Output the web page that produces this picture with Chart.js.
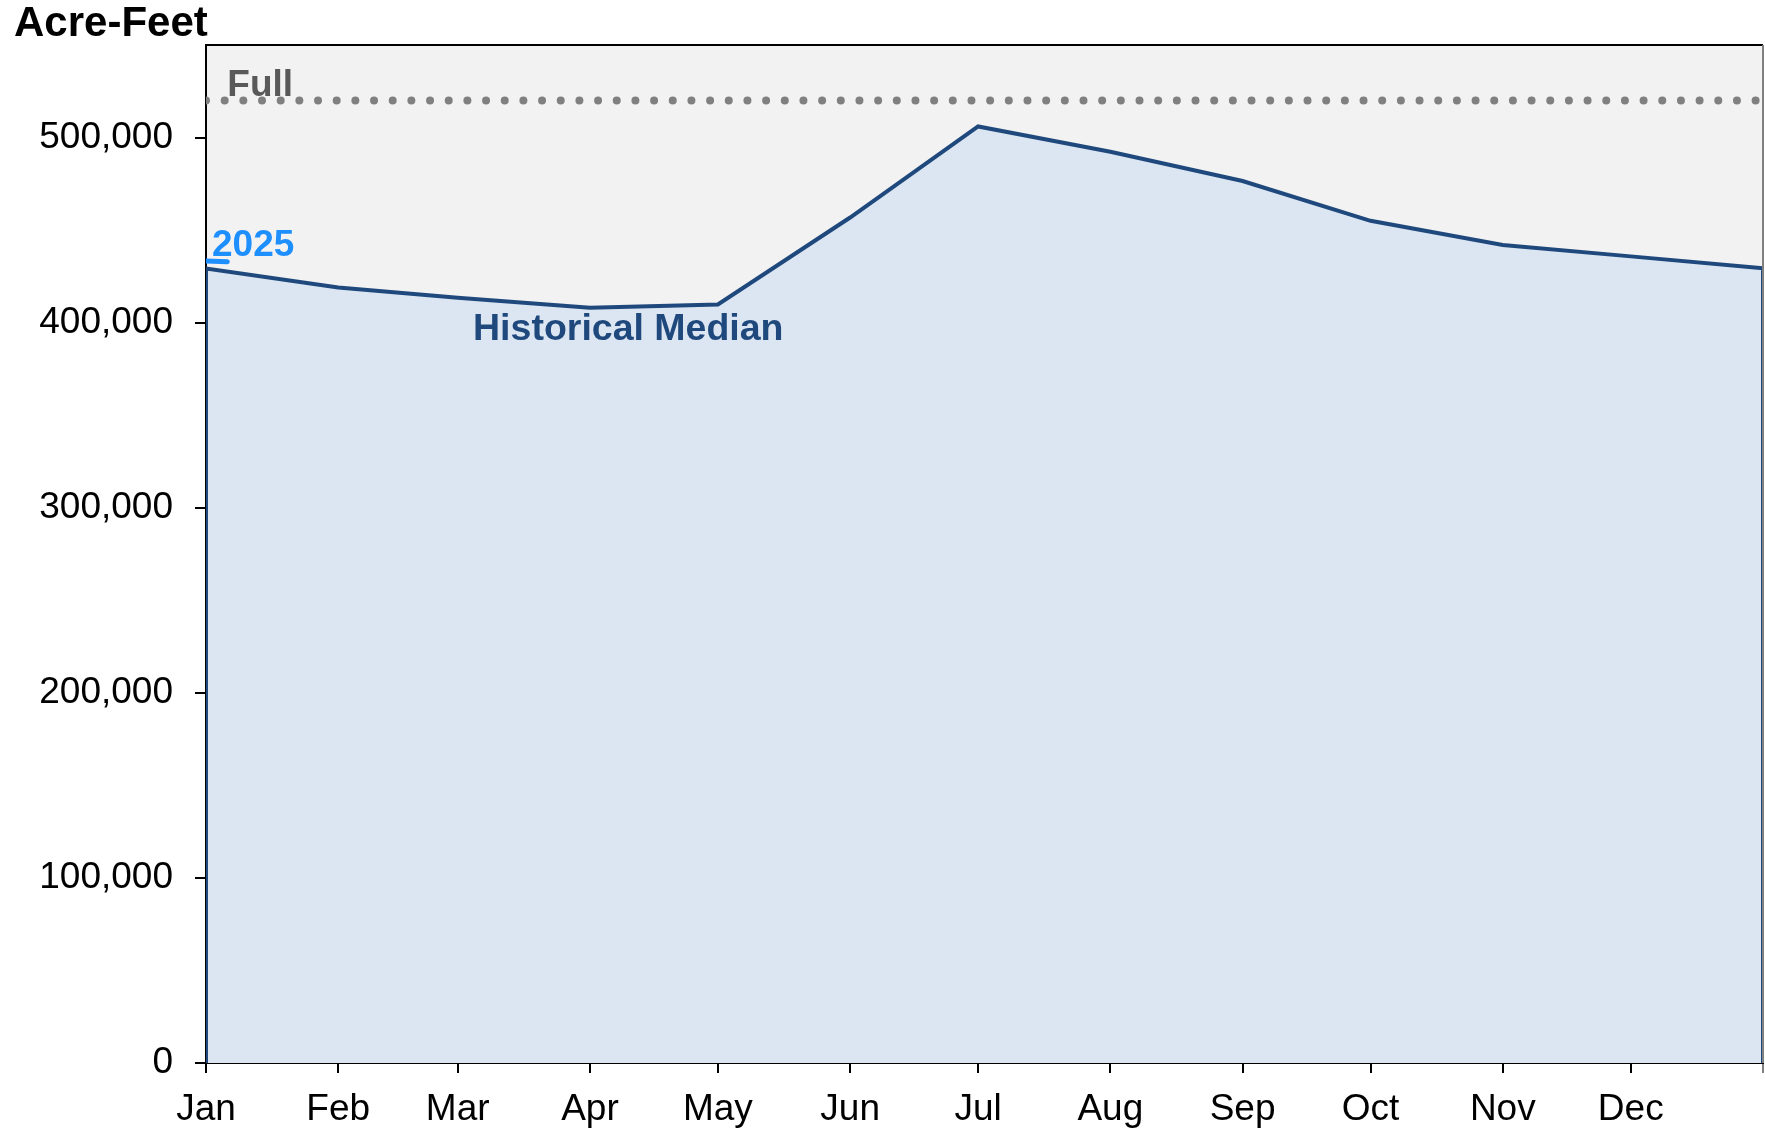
<!DOCTYPE html>
<html>
<head>
<meta charset="utf-8">
<script src="https://cdn.jsdelivr.net/npm/chart.js@4"></script>
<style>
  body { margin: 0; background: #fff; }
</style>
</head>
<body>
<canvas id="myChart" width="1765" height="1135"></canvas>
<script>
// day of year for each reading, and the historical median storage (acre-feet)
const medianDays = [0, 31, 59, 90, 120, 151, 181, 212, 243, 273, 304, 334, 365]
const medianValues = [429300, 419000, 413500, 408000, 409800, 456800, 506000, 492300, 476500, 455000, 442000, 435800, 429400]

// 2025 so far
const days2025 = [0, 5]
const values2025 = [433300, 432900]

// full pool
const fullValue = 520000

const months = ['Jan', 'Feb', 'Mar', 'Apr', 'May', 'Jun', 'Jul', 'Aug', 'Sep', 'Oct', 'Nov', 'Dec']
const monthStarts = [0, 31, 59, 90, 120, 151, 181, 212, 243, 273, 304, 334]
const yTicks = [0, 100000, 200000, 300000, 400000, 500000]

const font = '"Liberation Sans", Arial, sans-serif'

// median as a closed area down to zero, like the original
const medianData = [{ x: medianDays[0], y: 0 }]
  .concat(medianDays.map((d, i) => ({ x: d, y: medianValues[i] })))
  .concat([{ x: medianDays[medianDays.length - 1], y: 0 }])

const plotBg = {
  id: 'plotBg',
  beforeDraw(chart) {
    const { ctx, chartArea: a } = chart
    ctx.save()
    ctx.fillStyle = '#F2F2F2'
    ctx.fillRect(a.left, a.top, a.right - a.left, a.bottom - a.top)
    ctx.restore()
  },
  afterDatasetsDraw(chart) {
    const { ctx, chartArea: a } = chart
    ctx.save()
    ctx.lineWidth = 2
    ctx.strokeStyle = '#000'
    ctx.beginPath()
    ctx.moveTo(a.left - 1, a.top)
    ctx.lineTo(a.right, a.top)
    ctx.stroke()
    ctx.strokeStyle = '#808080'
    ctx.beginPath()
    ctx.moveTo(a.right, a.top)
    ctx.lineTo(a.right, a.bottom)
    ctx.stroke()
    ctx.restore()
  }
}

const textLabels = {
  id: 'textLabels',
  afterDatasetsDraw(chart) {
    const { ctx, scales: { x, y } } = chart
    ctx.save()
    ctx.textAlign = 'left'
    ctx.textBaseline = 'alphabetic'

    ctx.font = 'bold 37px ' + font
    ctx.fillStyle = '#595959'
    ctx.fillText('Full', x.getPixelForValue(5), y.getPixelForValue(fullValue) - 5)

    ctx.fillStyle = '#1E8FFF'
    ctx.fillText('2025', x.getPixelForValue(days2025[0]) + 6, y.getPixelForValue(values2025[0]) - 5)

    ctx.font = 'bold 37.5px ' + font
    ctx.fillStyle = '#1F497D'
    ctx.fillText('Historical Median', x.getPixelForValue(62.6), y.getPixelForValue(390400))
    ctx.restore()
  }
}

const config = {
  type: 'line',
  data: {
    datasets: [
      {
        label: '2025',
        data: days2025.map((d, i) => ({ x: d, y: values2025[i] })),
        borderColor: '#1E8FFF',
        borderWidth: 5,
        borderCapStyle: 'round',
        pointRadius: 0,
        fill: false
      },
      {
        label: 'Full',
        data: [{ x: 0, y: fullValue }, { x: 365, y: fullValue }],
        borderColor: '#808080',
        borderWidth: 8,
        borderCapStyle: 'round',
        borderDash: [0, 18.67],
        pointRadius: 0,
        fill: false
      },
      {
        label: 'Historical Median',
        data: medianData,
        borderColor: '#1F497D',
        borderWidth: 4,
        backgroundColor: '#DCE6F2',
        fill: 'origin',
        pointRadius: 0,
        tension: 0
      }
    ]
  },
  options: {
    responsive: false,
    animation: false,
    layout: { padding: { left: 14, right: 2, top: 0, bottom: 0 } },
    plugins: {
      legend: { display: false },
      tooltip: { enabled: false },
      title: {
        display: true,
        text: 'Acre-Feet',
        align: 'start',
        color: '#000',
        font: { family: font, size: 42, weight: 'bold', lineHeight: 1 },
        padding: { top: 3, bottom: 0 }
      }
    },
    scales: {
      x: {
        type: 'linear',
        min: 0,
        max: 365,
        afterBuildTicks: (scale) => {
          scale.ticks = monthStarts.concat([365]).map(v => ({ value: v }))
        },
        afterFit: (scale) => {
          scale.height = 72
          scale.paddingRight = 0
          scale.paddingLeft = 0
        },
        ticks: {
          autoSkip: false,
          maxRotation: 0,
          color: '#000',
          padding: 15,
          font: { family: font, size: 37 },
          callback: (value) => {
            const i = monthStarts.indexOf(value)
            return i >= 0 ? months[i] : ''
          }
        },
        grid: {
          drawOnChartArea: false,
          drawTicks: true,
          tickLength: 10,
          lineWidth: 2,
          color: (c) => (c.tick && c.tick.value === 365 ? '#808080' : '#000')
        },
        border: { display: true, color: '#000', width: 2 }
      },
      y: {
        min: 0,
        max: 550000,
        afterBuildTicks: (scale) => {
          scale.ticks = yTicks.map(v => ({ value: v }))
        },
        afterFit: (scale) => { scale.width = 192 },
        ticks: {
          color: '#000',
          padding: 22,
          font: { family: font, size: 37 },
          callback: (value) => value.toLocaleString('en-US')
        },
        grid: {
          drawOnChartArea: false,
          drawTicks: true,
          tickLength: 11,
          lineWidth: 2,
          color: '#000'
        },
        border: { display: true, color: '#000', width: 2 }
      }
    }
  },
  plugins: [plotBg, textLabels]
}

const myChart = document.getElementById('myChart')
new Chart(myChart, config)
</script>
</body>
</html>
